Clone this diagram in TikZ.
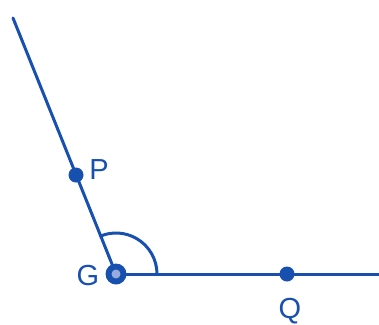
\documentclass[tikz,border=0pt]{standalone}
\usepackage{fontspec}
\setmainfont{Liberation Sans}
\definecolor{geo}{RGB}{24,80,176}
\definecolor{geoin}{RGB}{150,170,222}
\begin{document}
\begin{tikzpicture}[x=1pt,y=-1pt,
  ray/.style={geo,line width=3pt,line cap=round},
  dotpt/.style={circle,fill=geo,inner sep=0pt,minimum size=15pt},
  lbl/.style={text=geo,font=\fontsize{29}{29}\selectfont,inner sep=0pt}]
\useasboundingbox (0,0) rectangle (379,324);
\coordinate (G) at (116,274);
\coordinate (A) at (13,18);
\coordinate (B) at (382,274);
\draw[ray] (G) -- (A);
\draw[geo,line width=3pt] (G) -- (B);
\draw[ray] ([xshift=41pt]G) arc[start angle=0,end angle=111.9,radius=41pt];
\node[dotpt] (P) at (76,175) {};
\node[dotpt] (Q) at (287,274) {};
\node[circle,fill=geo,inner sep=0pt,minimum size=21pt] (Gv) at (G) {};
\node[circle,fill=geoin,inner sep=0pt,minimum size=9pt] (Gi) at (G) {};
\node[lbl] (Pl) at (99,170) {P};
\node[lbl] (Ql) at (290,311) {Q};
\node[lbl] (Gl) at (88,276) {G};
\end{tikzpicture}
\end{document}
